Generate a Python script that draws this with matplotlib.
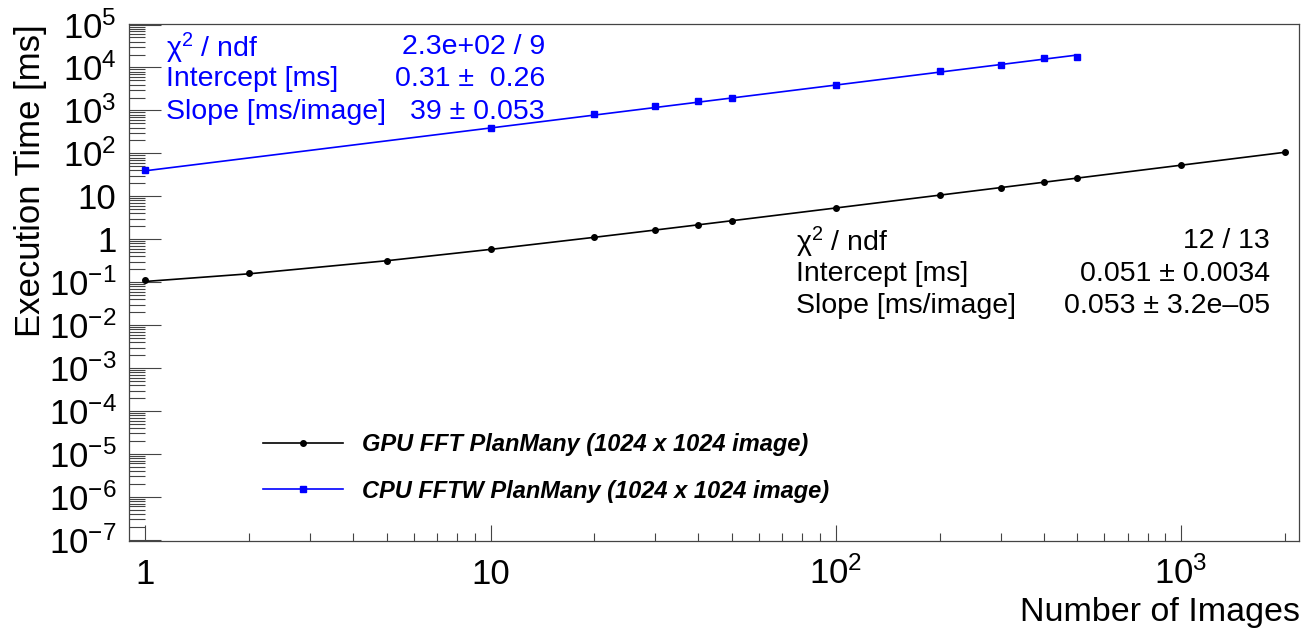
import matplotlib
matplotlib.use('Agg')
import matplotlib.pyplot as plt
from matplotlib.lines import Line2D
from matplotlib.ticker import FixedLocator, FixedFormatter, NullFormatter
import numpy as np

plt.rcParams['font.family'] = ['Liberation Sans', 'DejaVu Sans']
plt.rcParams['mathtext.fontset'] = 'custom'
plt.rcParams['mathtext.rm'] = 'Liberation Sans'
plt.rcParams['mathtext.it'] = 'Liberation Sans:italic'
plt.rcParams['mathtext.bf'] = 'Liberation Sans:bold'

gpu_images = [1, 2, 5, 10, 20, 30, 40, 50, 100, 200, 300, 400, 500, 1000, 2000]
gpu_time = [0.115, 0.16, 0.32, 0.58, 1.1, 1.65, 2.17, 2.67, 5.3, 10.6, 16.0, 21.3, 26.4, 54, 105]
cpu_images = [1, 10, 20, 30, 40, 50, 100, 200, 300, 400, 500]
cpu_time = [40.6, 393, 833, 1240, 1650, 2000, 3950, 8100, 11400, 16500, 17800]

# linear fit parameters (intercept, slope)
gpu_fit = (0.051, 0.053)
cpu_fit = (0.31, 39)

gpu_stats_names = ['χ$^{2}$ / ndf', 'Intercept [ms]', 'Slope [ms/image]']
gpu_stats_vals = ['12 / 13', '0.051 ± 0.0034', '0.053 ± 3.2e–05']
cpu_stats_names = ['χ$^{2}$ / ndf', 'Intercept [ms]', 'Slope [ms/image]']
cpu_stats_vals = ['2.3e+02 / 9', '0.31 ±  0.26', '39 ± 0.053']

xticks = [1, 10, 100, 1000]
xticklabels = ['1', '10', '$10^{2}$', '$10^{3}$']
yticks = [1e5, 1e4, 1e3, 1e2, 10, 1, 1e-1, 1e-2, 1e-3, 1e-4, 1e-5, 1e-6, 1e-7]
yticklabels = ['$10^{5}$', '$10^{4}$', '$10^{3}$', '$10^{2}$', '10', '1',
               '$10^{-1}$', '$10^{-2}$', '$10^{-3}$', '$10^{-4}$',
               '$10^{-5}$', '$10^{-6}$', '$10^{-7}$']

W, H = 1309, 629
fig = plt.figure(figsize=(W / 100, H / 100), dpi=100)
ax = fig.add_axes([129 / W, 1 - 541 / H, (1299 - 129) / W, (541 - 24) / H])

def px(x, y):
    return x / W, 1 - y / H

# fit lines
gx = np.array(gpu_images, dtype=float)
cx = np.array(cpu_images, dtype=float)
ax.plot(gx, gpu_fit[0] + gpu_fit[1] * gx, color='black', lw=1.2)
ax.plot(cx, cpu_fit[0] + cpu_fit[1] * cx, color='blue', lw=1.2)
# data points
ax.plot(gpu_images, gpu_time, 'o', color='black', ms=4, ls='none')
ax.plot(cpu_images, cpu_time, 's', color='blue', ms=4.4, ls='none')

ax.set_xscale('log')
ax.set_yscale('log')
ax.set_xlim(0.897, 2196)
ax.set_ylim(9.4e-8, 1.03e5)

ax.xaxis.set_major_locator(FixedLocator(xticks))
ax.xaxis.set_major_formatter(FixedFormatter(xticklabels))
xminor = [m * 10 ** e for e in range(0, 4) for m in range(2, 10)]
ax.xaxis.set_minor_locator(FixedLocator(xminor))
ax.xaxis.set_minor_formatter(NullFormatter())
ax.yaxis.set_major_locator(FixedLocator(yticks))
ax.yaxis.set_major_formatter(FixedFormatter(yticklabels))
yminor = [m * 10.0 ** e for e in range(-8, 6) for m in range(2, 10)]
ax.yaxis.set_minor_locator(FixedLocator(yminor))
ax.yaxis.set_minor_formatter(NullFormatter())

ax.tick_params(axis='both', which='both', direction='in', top=False, right=False,
               color='#444444', width=0.8, labelsize=25)
ax.tick_params(axis='y', which='major', length=23, pad=9)
ax.tick_params(axis='y', which='minor', length=11.5)
ax.tick_params(axis='x', which='major', length=11.5, pad=31)
ax.tick_params(axis='x', which='minor', length=5.8)
for lbl in ax.get_xticklabels():
    lbl.set_va('baseline')
for lbl in ax.get_yticklabels():
    lbl.set_va('center_baseline')
for s in ax.spines.values():
    s.set_color('#444444')
    s.set_linewidth(0.9)

# axis titles (ROOT style: at the end of the axis)
fig.text(*px(1300, 621), 'Number of Images', ha='right', va='baseline', fontsize=24.5)
fig.text(*px(31, 24), 'Execution Time [ms]', ha='center', va='top', rotation=90, fontsize=25)

# fit boxes
for i, (n, v) in enumerate(zip(cpu_stats_names, cpu_stats_vals)):
    y = 44 + i * 32.5
    fig.text(*px(166, y), n, color='blue', fontsize=20.5, va='center_baseline')
    fig.text(*px(545, y), v, color='blue', fontsize=20.5, ha='right', va='center_baseline')
for i, (n, v) in enumerate(zip(gpu_stats_names, gpu_stats_vals)):
    y = 238 + i * 32.5
    fig.text(*px(796, y), n, color='black', fontsize=20.5, va='center_baseline')
    fig.text(*px(1270, y), v, color='black', fontsize=20.5, ha='right', va='center_baseline')

handles = [Line2D([], [], color='black', lw=1.2, marker='o', ms=4),
           Line2D([], [], color='blue', lw=1.2, marker='s', ms=4.4)]
labels = ['GPU FFT PlanMany (1024 x 1024 image)', 'CPU FFTW PlanMany (1024 x 1024 image)']
fig.legend(handles, labels, loc='upper left', bbox_to_anchor=px(263, 433),
           frameon=False, borderpad=0, borderaxespad=0, numpoints=1,
           handlelength=3.4, handletextpad=0.8, labelspacing=1.0,
           prop={'size': 17, 'weight': 'bold', 'style': 'italic'})

fig.savefig('out.png', dpi=100)
